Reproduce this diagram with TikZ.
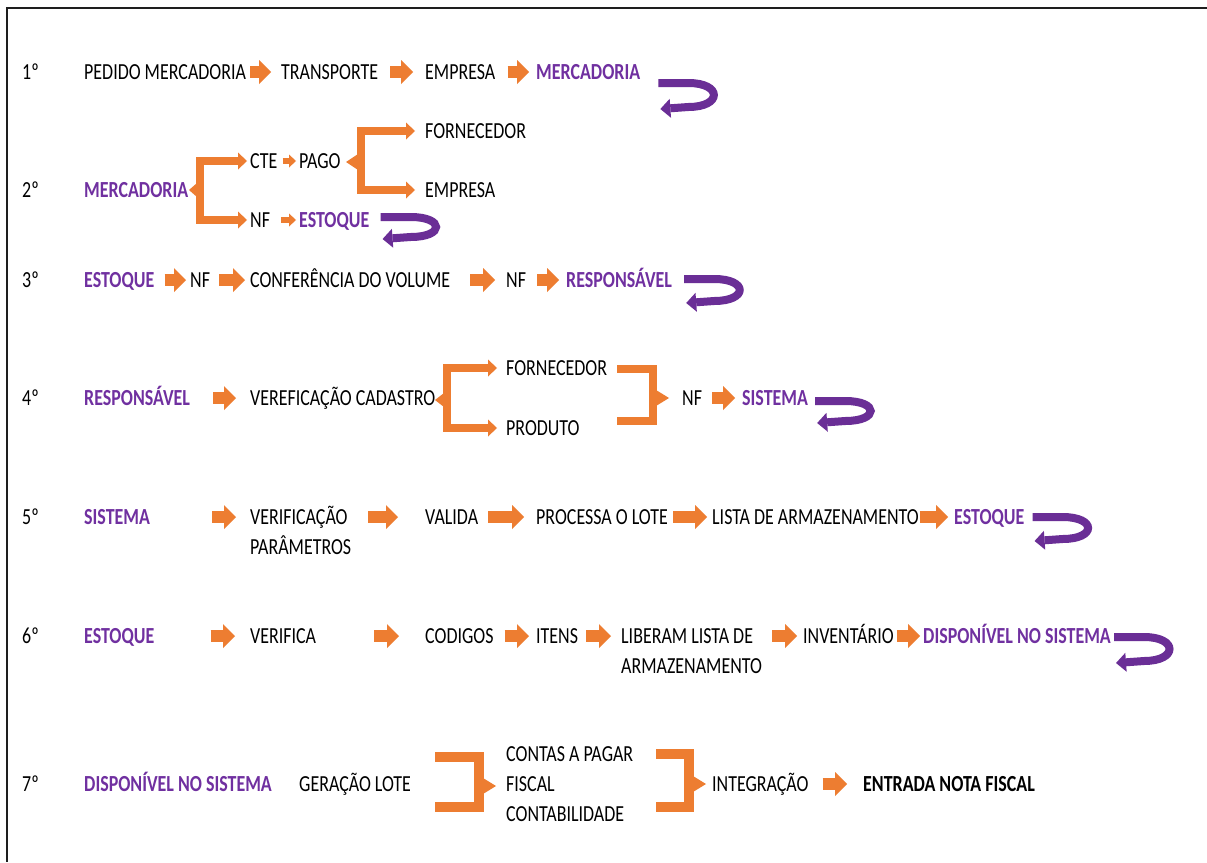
\documentclass[tikz,border=0pt]{standalone}
\usepackage{fontspec}
\setmainfont{Carlito}[FakeStretch=0.78]
\usepackage{tikz}
\usetikzlibrary{arrows.meta, positioning, calc}
\definecolor{laranja}{HTML}{ED7D31}
\definecolor{roxo}{HTML}{7030A0}
\definecolor{roxoseta}{HTML}{6A2E96}
\definecolor{moldura}{HTML}{1E1E1E}

% seta em U (volta) depois do ultimo item de cada etapa
\newcommand{\volta}[4]{%
  \draw[uturn] ($(#1.east)+(#2,#3)$) -- ++(30,0)
    to[out=0, in=0, distance=34pt] ++(0,#4) -- ++(-28,2);}

\begin{document}
\begin{tikzpicture}[
    x=1pt, y=-1pt,
    txt/.style      = {anchor=base west, yshift=-7.5pt, inner sep=0pt,
                       text height=15pt, text depth=0pt,
                       font=\fontsize{23}{30}\selectfont, text=black},
    destaque/.style = {txt, font=\fontsize{23}{30}\selectfont\bfseries,
                       text=roxo},
    duas/.style     = {txt, align=left, text height={}, text depth={}},
    seta/.style 2 args = {draw=laranja, line width=12pt,
                       -{Triangle[width=24pt, length=12pt, line width=0pt]},
                       shorten <=#1pt, shorten >=#2pt},
    setinha/.style 2 args = {draw=laranja, line width=6pt,
                       -{Triangle[width=13pt, length=7pt, line width=0pt]},
                       shorten <=#1pt, shorten >=#2pt},
    brk/.style      = {draw=laranja, line width=8pt, line join=miter},
    brkseta/.style  = {brk,
                       {Triangle[width=17pt, length=9pt, line width=0pt]}-%
                       {Triangle[width=17pt, length=9pt, line width=0pt]}},
    ponta/.style    = {fill=laranja},
    uturn/.style    = {draw=roxoseta, line width=8pt,
                       -{Triangle[width=19pt, length=10pt, line width=0pt]}}
  ]

  \useasboundingbox (0,0) rectangle (1207,862);
  \fill[white] (0,0) rectangle (1207,862);
  \draw[moldura, line width=2pt] (1207,8) -- (7,8) -- (7,862);

  %% 1a etapa
  \node[txt] (n1) at (22,72) {1º};
  \node[txt] (pedido) at (84,72) {PEDIDO MERCADORIA};
  \node[txt] (transp) at (281,72) {TRANSPORTE};
  \node[txt] (empresa1) at (425,72) {EMPRESA};
  \node[destaque] (merc1) at (536,72) {MERCADORIA};

  %% 2a etapa
  \node[txt] (n2) at (22,190) {2º};
  \node[destaque] (merc2) at (84,190) {MERCADORIA};
  \node[txt] (cte) at (250,161) {CTE};
  \node[txt] (pago) at (299,161) {PAGO};
  \node[txt] (forn2) at (425,131) {FORNECEDOR};
  \node[txt] (empresa2) at (425,190) {EMPRESA};
  \node[txt] (nf2) at (250,220) {NF};
  \node[destaque] (est2) at (299,220) {ESTOQUE};

  %% 3a etapa
  \node[txt] (n3) at (22,280) {3º};
  \node[destaque] (est3) at (84,280) {ESTOQUE};
  \node[txt] (nf3a) at (190,280) {NF};
  \node[txt] (conf) at (250,280) {CONFERÊNCIA DO VOLUME};
  \node[txt] (nf3b) at (506,280) {NF};
  \node[destaque] (resp3) at (566,280) {RESPONSÁVEL};

  %% 4a etapa
  \node[txt] (n4) at (22,398) {4º};
  \node[destaque] (resp4) at (84,398) {RESPONSÁVEL};
  \node[txt] (veref) at (250,398) {VEREFICAÇÃO CADASTRO};
  \node[txt] (forn4) at (506,368) {FORNECEDOR};
  \node[txt] (prod4) at (506,428) {PRODUTO};
  \node[txt] (nf4) at (682,398) {NF};
  \node[destaque] (sist4) at (742,398) {SISTEMA};

  %% 5a etapa (texto de duas linhas: base na segunda linha)
  \node[txt] (n5) at (22,517) {5º};
  \node[destaque] (sist5) at (84,517) {SISTEMA};
  \node[duas] (verif) at (250,547) {VERIFICAÇÃO\\PARÂMETROS};
  \node[txt] (valida) at (425,517) {VALIDA};
  \node[txt] (proc) at (536,517) {PROCESSA O LOTE};
  \node[txt] (lista) at (712,517) {LISTA DE ARMAZENAMENTO};
  \node[destaque] (est5) at (954,517) {ESTOQUE};

  %% 6a etapa
  \node[txt] (n6) at (22,636) {6º};
  \node[destaque] (est6) at (84,636) {ESTOQUE};
  \node[txt] (verifica) at (250,636) {VERIFICA};
  \node[txt] (cod) at (425,636) {CODIGOS};
  \node[txt] (itens) at (536,636) {ITENS};
  \node[duas] (liber) at (621,666) {LIBERAM LISTA DE\\ARMAZENAMENTO};
  \node[txt] (inv) at (803,636) {INVENTÁRIO};
  \node[destaque] (disp6) at (923,636) {DISPONÍVEL NO SISTEMA};

  %% 7a etapa
  \node[txt] (n7) at (22,784) {7º};
  \node[destaque] (disp7) at (84,784) {DISPONÍVEL NO SISTEMA};
  \node[txt] (geracao) at (299,784) {GERAÇÃO LOTE};
  \node[txt] (contas) at (506,754) {CONTAS A PAGAR};
  \node[txt] (fiscal) at (506,784) {FISCAL};
  \node[txt] (contab) at (506,814) {CONTABILIDADE};
  \node[txt] (integ) at (712,784) {INTEGRAÇÃO};
  \node[txt, font=\fontsize{23}{30}\selectfont\bfseries]
        (entrada) at (863,784) {ENTRADA NOTA FISCAL};

  %% Setas
  \draw[seta={4}{10}] (pedido.east) -- (transp.west);
  \draw[seta={12}{12}] (transp.east) -- (empresa1.west);
  \draw[seta={12}{7}] (empresa1.east) -- (merc1.west);

  \draw[setinha={5}{3}] (cte.east) -- (pago.west);
  \draw[setinha={11}{3}] (nf2.east) -- (est2.west);

  \draw[seta={10}{4}] (est3.east) -- (nf3a.west);
  \draw[seta={9}{5}] (nf3a.east) -- (conf.west);
  \draw[seta={20}{11}] (conf.east) -- (nf3b.west);
  \draw[seta={11}{7}] (nf3b.east) -- (resp3.west);

  \draw[seta={23}{14}] (resp4.east) -- (veref.west);
  \draw[seta={10}{7}] (nf4.east) -- (sist4.west);

  \draw[seta={62}{14}] (sist5.east) -- (verif.west |- sist5.east);
  \draw[seta={17}{27}] (verif.east |- valida.west) -- (valida.west);
  \draw[seta={10}{12}] (valida.east) -- (proc.west);
  \draw[seta={5}{5}] (proc.east) -- (lista.west);
  \draw[seta={1}{6}] (lista.east) -- (est5.west);

  \draw[seta={56}{15}] (est6.east) -- (verifica.west);
  \draw[seta={58}{26}] (verifica.east) -- (cod.west);
  \draw[seta={11}{7}] (cod.east) -- (itens.west);
  \draw[seta={8}{10}] (itens.east) -- (liber.west |- itens.east);
  \draw[seta={10}{6}] (liber.east |- inv.west) -- (inv.west);
  \draw[seta={3}{3}] (inv.east) -- (disp6.west);

  \draw[seta={14}{16}] (integ.east) -- (entrada.west);

  %% Chaves
  \coordinate (b2a) at (200,190);
  \draw[brkseta, shorten <=3pt, shorten >=3pt]
        (cte.west) -| (b2a) |- (nf2.west);
  \fill[ponta] ($(b2a)+(-3,-7)$) -- ++(-8,7) -- ++(8,7) -- cycle;

  \coordinate (b2b) at (361,162);
  \draw[brkseta, shorten <=10pt, shorten >=10pt]
        (forn2.west) -| (b2b) |- (empresa2.west);
  \fill[ponta] ($(b2b)+(-3,-8)$) -- ++(-12,8) -- ++(12,8) -- cycle;

  \coordinate (b4a) at (447,400);
  \draw[brkseta, shorten <=9pt, shorten >=9pt]
        (forn4.west) -| (b4a) |- (prod4.west);
  \fill[ponta] ($(b4a)+(-3,-7)$) -- ++(-9,7) -- ++(9,7) -- cycle;

  \coordinate (k4a) at (617,369);
  \coordinate (k4b) at (617,421);
  \coordinate (b4b) at (653,398);
  \draw[brk] (k4a) -| (b4b) |- (k4b);
  \fill[ponta] ($(b4b)+(3,-8)$) -- ++(13,8) -- ++(-13,8) -- cycle;

  \coordinate (k7a) at (435,757);
  \coordinate (k7b) at (435,807);
  \coordinate (b7a) at (479,786);
  \draw[brk, line width=10pt] (k7a) -| (b7a) |- (k7b);
  \fill[ponta] ($(b7a)+(4,-8)$) -- ++(13,8) -- ++(-13,8) -- cycle;

  \coordinate (k7c) at (656,754);
  \coordinate (k7d) at (656,807);
  \coordinate (b7b) at (689,784);
  \draw[brk, line width=10pt] (k7c) -| (b7b) |- (k7d);
  \fill[ponta] ($(b7b)+(4,-8)$) -- ++(13,8) -- ++(-13,8) -- cycle;

  %% Voltas
  \volta{merc1}{18}{11}{24}
  \volta{est2}{11}{-3}{20}
  \volta{resp3}{12}{-1}{22}
  \volta{sist4}{7}{3}{20}
  \volta{est5}{8}{0}{22}
  \volta{disp6}{3}{1}{24}

\end{tikzpicture}
\end{document}
